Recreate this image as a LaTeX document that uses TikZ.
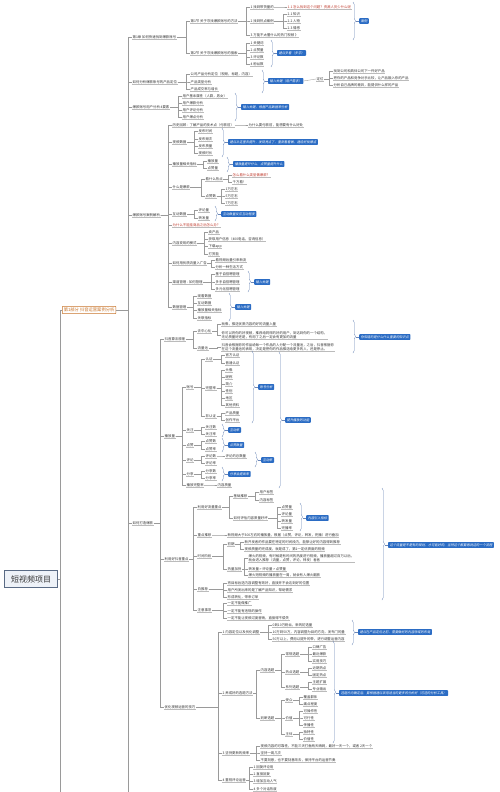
\documentclass[tikz,border=0pt]{standalone}
\usepackage{fontspec}
\setmainfont{Noto Sans CJK SC}
\newfontfamily\tagfont{Noto Sans CJK SC}[FakeSlant=0.2]
\usetikzlibrary{decorations.pathreplacing,calc}
\definecolor{txt}{HTML}{333333}
\definecolor{lnc}{HTML}{9A9A9A}
\definecolor{ulc}{HTML}{BBBBBB}
\definecolor{tagc}{HTML}{2B6CC4}
\definecolor{redc}{HTML}{C0392B}
\definecolor{brcc}{HTML}{6A86B8}
\definecolor{rootfill}{HTML}{EEF2F8}
\definecolor{rootdraw}{HTML}{5A6B85}
\definecolor{partc}{HTML}{C8742A}
\newcommand{\fs}{\fontsize{3.4}{4.2}\selectfont}
\tikzset{
 t/.style={anchor=west, inner sep=0.5pt, font=\fs, text=txt,
   append after command={(\tikzlastnode.south west) edge[ul] (\tikzlastnode.south east)}},
 tr/.style={t, text=redc},
 tml/.style={t, align=left},
 ln/.style={draw=lnc, line width=0.35pt},
 ul/.style={draw=ulc, line width=0.3pt},
 tag/.style={anchor=west, fill=tagc, text=white, font=\tagfont\fontsize{3.2}{4}\selectfont,
   inner xsep=1.6pt, inner ysep=1.3pt, rounded corners=0.6pt},
 brc/.style={draw=brcc, line width=0.4pt, decorate, decoration={brace, amplitude=2.5pt}},
 brl/.style={draw=brcc, line width=0.4pt},
 rootbox/.style={draw=rootdraw, fill=rootfill, line width=0.5pt, font=\fontsize{8}{9}\selectfont,
   text=txt, minimum width=53pt, minimum height=17pt, inner sep=1pt},
 partbox/.style={anchor=west, draw=partc, line width=0.5pt, font=\fontsize{4.3}{5}\selectfont,
   text=partc, inner xsep=1.5pt, inner ysep=1.5pt, rounded corners=0.5pt},
}
\newcommand{\lk}[2]{\foreach \c in {#2}{\draw[ln] (#1.east) -| ([xshift=-4pt]\c.west) -- (\c.west);}}
\newcommand{\bra}[6]{%
 \draw[brc] (#1,#2) -- (#1,#3);
 \node[tag] (#5) at ({#1+6},#4) {#6};
 \draw[brl] ({#1+3},#4) -- (#5.west);}
\begin{document}
\begin{tikzpicture}[x=1pt,y=-1pt]
\useasboundingbox (0,0) rectangle (500,792);
\fill[white] (0,0) rectangle (500,792);

% root and part
\node[rootbox] (root) at (31,579) {短视频项目};
\node[partbox] (p1) at (62,310) {第1部分 抖音运营案例分析};
\draw[ln] (root.east) -| (60,310) -- (p1.west);
\draw[ln] (60,579) -- (60,792);

% level 1 of part 1
\node[t] (c1) at (132,37) {第1章 如何快速找到爆款账号};
\node[t] (c2) at (132,82) {如何分析爆款账号的产品定位};
\node[t] (c3) at (132,107) {爆款账号用户分析 4要素};
\node[t] (c4) at (132,215) {爆款账号案例解析};
\node[t] (c5) at (132,523) {如何打造爆款};
\lk{p1}{c1,c2,c3,c4,c5}
\draw[ln] (128,523) -- (128,792);

% ---- chapter 1
\node[t] (s1) at (190,21) {第1节 关于寻找爆款账号的方法};
\node[t] (s2) at (190,53) {第2节 关于寻找爆款账号的搜索};
\lk{c1}{s1,s2}
\node[t] (a1) at (250,7) {1 找到带货量的};
\node[t] (a2) at (250,21) {2 找到热点案例};
\node[t] (a3) at (250,35) {3 万能不太懂什么的热门视频 》};
\lk{s1}{a1,a2,a3}
\node[tr] (a11) at (287,7) {1.1 怎么找到这个问题？资源人员少什么呢};
\lk{a1}{a11}
\node[t] (a21) at (287,14) {2.1 知识};
\node[t] (a22) at (287,21) {2.2 人物};
\node[t] (a23) at (287,28) {2.3 情感};
\lk{a2}{a21,a22,a23}
\bra{353}{2}{40}{21}{T1}{案例}
\node[t] (b1) at (250,43) {1 关键词};
\node[t] (b2) at (250,50) {2 点赞量};
\node[t] (b3) at (250,57) {3 评论数};
\node[t] (b4) at (250,64) {4 粉丝数};
\lk{s2}{b1,b2,b3,b4}
\bra{271}{40}{67}{53}{T2}{建议多看（多学）}

% ---- product positioning
\node[t] (d1) at (190,74) {公司产品分析定位（视频，标题，内容）};
\node[t] (d2) at (190,82) {产品类型分析};
\node[t] (d3) at (190,89) {产品成交率与增长};
\lk{c2}{d1,d2,d3}
\bra{262}{70}{93}{81}{T3}{输入关键（用户需求）}
\node[t] (dw) at (316,79) {定位};
\draw[ln] (T3.east) -- (dw.west);
\node[t] (d4) at (333,71) {找到公司和具体公司下一件好产品};
\node[t] (d5) at (333,78) {把你的产品和竞争对手比较，让产品融入你的产品};
\node[t] (d6) at (333,85) {分析自己品牌的差异，能提供什么样的产品};
\lk{dw}{d4,d5,d6}

% ---- user analysis
\node[t] (e1) at (182,96) {用户基本属性（人群，男女）};
\node[t] (e2) at (182,103) {用户爆款分析};
\node[t] (e3) at (182,110) {用户评论分析};
\node[t] (e4) at (182,117) {用户爆点分析};
\lk{c3}{e1,e2,e3,e4}
\bra{235}{93}{121}{107}{T4}{输入关键，根据产品数据来分析}

% ---- case analysis
\node[t] (f0) at (172,125) {历史回顾：了解产品的技术点（付款前）};
\node[t] (f1) at (172,142) {视频数据};
\node[t] (f2) at (172,164) {播放量相关指标};
\node[t] (f3) at (172,187) {什么是爆款};
\node[t] (f4) at (172,214) {互动数据};
\node[tr] (f5) at (172,225) {为什么不能挂商品之后怎么办？};
\node[t] (f6) at (172,243) {内容变现的模式};
\node[t] (f7) at (172,263) {如何用优质流量入广告};
\node[t] (f8) at (172,282) {渠道管理 - 如何管理};
\node[t] (f9) at (172,307) {数据管理};
\lk{c4}{f0,f1,f2,f3,f4,f5,f6,f7,f8,f9}
\node[t] (f0a) at (248,125) {为什么要付款前，能想要有什么好处};
\lk{f0}{f0a}
\node[t] (f11) at (198,131) {发布时间};
\node[t] (f12) at (198,139) {发布频次};
\node[t] (f13) at (198,146) {发布质量};
\node[t] (f14) at (198,153) {视频时长};
\lk{f1}{f11,f12,f13,f14}
\bra{222}{128}{157}{142}{T5}{建议从这里去提升，发现亮点了，重新看看做，建设好找爆点}
\node[t] (f21) at (207,161) {播放量};
\node[t] (f22) at (207,168) {点赞量};
\lk{f2}{f21,f22}
\bra{227}{157}{172}{164}{T6}{播放量提升什么，点赞量提升什么}
\node[t] (g1) at (205,179) {看什么热点};
\node[t] (g2) at (205,196) {点赞数};
\lk{f3}{g1,g2}
\node[tr] (g11) at (232,175) {怎么看什么类型做爆款？};
\node[t] (g12) at (232,182) {千万看！};
\lk{g1}{g11,g12}
\node[t] (g21) at (225,189) {1万左右};
\node[t] (g22) at (225,196) {5万左右};
\node[t] (g23) at (225,203) {7万左右};
\lk{g2}{g21,g22,g23}
\node[t] (f41) at (198,210) {评论量};
\node[t] (f42) at (198,218) {转发量};
\lk{f4}{f41,f42}
\bra{215}{206}{221}{214}{T7}{互动数量反应互动程度}
\node[t] (f61) at (208,232) {卖产品};
\node[t] (f62) at (208,239) {获取用户信息（400电话，咨询信息）};
\node[t] (f63) at (208,246) {下载app};
\node[t] (f64) at (208,254) {打赏能};
\lk{f6}{f61,f62,f63,f64}
\node[t] (f71) at (215,260) {看视频后量引来新流};
\node[t] (f72) at (215,267) {分析一种生活方式};
\lk{f7}{f71,f72}
\node[t] (f81) at (215,274) {基于自招聘管理};
\node[t] (f82) at (215,282) {多手自招聘管理};
\node[t] (f83) at (215,289) {多元化招聘管理};
\lk{f8}{f81,f82,f83}
\bra{248}{271}{292}{282}{T8}{输入关键}
\node[t] (f91) at (197,296) {观看数据};
\node[t] (f92) at (197,303) {互动数据};
\node[t] (f93) at (197,310) {播放量相关指标};
\node[t] (f94) at (197,318) {关联指标};
\lk{f9}{f91,f92,f93,f94}
\bra{229}{293}{321}{307}{T9}{输入关键}

% ---- how to make hits
\node[t] (h1) at (164,339) {抖音算法原理};
\node[t] (h2) at (164,436) {播放量};
\node[t] (h3) at (164,559) {利用好抖音重点};
\node[t] (h4) at (164,707) {优化视频运营的技巧};
\lk{c5}{h1,h2,h3,h4}

\node[t] (i1) at (197,331) {去中心化};
\node[t] (i2) at (197,348) {流量池};
\lk{h1}{i1,i2}
\node[t] (i11) at (221,324) {就像，推送优质内容的好的流量入量};
\node[tml] (i12) at (221,335) {你可以将你的好视频，推荐给同样的好的用户，到达到你的一个结构，\\无论质量好还是，有用了之后一定会有更加的流量};
\lk{i1}{i11,i12}
\node[tml] (i21) at (221,347) {抖音会根据你的作品给每一个作品的人分配一个流量池，之后，抖音根据你\\在这个流量池的表现，决定是把你的作品推送给更多的人，还是停止。};
\lk{i2}{i21}
\bra{353}{320}{353}{337}{T10}{你知道的是什么什么重要的知识点}

\node[t] (j1) at (186,387) {账号};
\node[t] (j2) at (186,430) {关注};
\node[t] (j3) at (186,445) {点赞};
\node[t] (j4) at (186,460) {评论};
\node[t] (j5) at (186,474) {分享};
\node[t] (j6) at (186,485) {播放完整率};
\lk{h2}{j1,j2,j3,j4,j5,j6}
\node[t] (k1) at (205,359) {认证};
\node[t] (k2) at (205,388) {完整率};
\node[t] (k3) at (205,416) {非认证};
\lk{j1}{k1,k2,k3}
\node[t] (k11) at (225,355) {官方认证};
\node[t] (k12) at (225,363) {普通认证};
\lk{k1}{k11,k12}
\node[t] (k21) at (225,370) {头像};
\node[t] (k22) at (225,377) {昵称};
\node[t] (k23) at (225,384) {简介};
\node[t] (k24) at (225,391) {性别};
\node[t] (k25) at (225,398) {地区};
\node[t] (k26) at (225,405) {其他资料};
\lk{k2}{k21,k22,k23,k24,k25,k26}
\node[t] (k31) at (225,413) {产品质量};
\node[t] (k32) at (225,420) {创作平台};
\lk{k3}{k31,k32}
\bra{252}{351}{423}{387}{T11}{账号分析}
\node[t] (j21) at (205,427) {关注数};
\node[t] (j22) at (205,434) {关注率};
\lk{j2}{j21,j22}
\bra{222}{424}{437}{430}{T12}{互动率}
\node[t] (j31) at (205,441) {点赞数};
\node[t] (j32) at (205,449) {点赞率};
\lk{j3}{j31,j32}
\bra{222}{438}{452}{445}{T13}{点赞数量}
\node[t] (j41) at (205,456) {评论数};
\node[t] (j42) at (205,463) {评论率};
\lk{j4}{j41,j42}
\node[t] (j411) at (225,456) {评论的总数量};
\lk{j41}{j411}
\bra{255}{452}{467}{460}{T14}{互动率}
\node[t] (j51) at (205,471) {分享数};
\node[t] (j52) at (205,478) {分享率};
\lk{j5}{j51,j52}
\bra{222}{467}{481}{474}{T15}{分享会提高率}
\node[t] (j61) at (217,485) {内容质量};
\lk{j6}{j61}
\bra{279}{352}{488}{420}{T16}{提升播放的功能}

\node[t] (l1) at (197,507) {利用好流量重点};
\node[t] (l2) at (197,535) {重点推荐};
\node[t] (l3) at (197,556) {时间阶段};
\node[t] (l4) at (197,589) {白推荐};
\node[t] (l5) at (197,610) {注意事项};
\lk{h3}{l1,l2,l3,l4,l5}
\node[t] (m1) at (233,496) {基础推荐};
\node[t] (m2) at (233,518) {如何评估内容质量好坏};
\lk{l1}{m1,m2}
\node[t] (m11) at (259,492) {用户标签};
\node[t] (m12) at (259,500) {内容标签};
\lk{m1}{m11,m12}
\node[t] (m21) at (281,507) {点赞量};
\node[t] (m22) at (281,514) {评论量};
\node[t] (m23) at (281,521) {转发量};
\node[t] (m24) at (281,528) {完播率};
\lk{m2}{m21,m22,m23,m24}
\bra{300}{503}{531}{518}{T17}{内容引入指标}
\node[t] (l21) at (227,535) {新视频大于300左右的播放量，根据（点赞，评论，转发，完播）进行叠加};
\lk{l2}{l21}
\node[t] (n1) at (227,544) {初期};
\node[t] (n2) at (227,569) {热量加持};
\lk{l3}{n1,n2}
\node[t] (n11) at (244,542) {新开发者的作品要在特定的时间段内，能够让好的内容得到推荐};
\node[t] (n12) at (244,549) {视频质量的完成度，就是成了，第1一定优质度的视频};
\lk{n1}{n11,n12}
\node[tml] (n21) at (248,558) {爆火的视频，有时候是有时间的热度进行视频，播放量超过百万以后，\\就会进入推荐（流量，点赞，评论，转发）者者};
\node[t] (n22) at (248,569) {转发量 > 评论量 > 点赞量};
\node[t] (n23) at (248,575) {爆火短视频的播放量在一周，就会有人爆火翻放};
\lk{n2}{n21,n22,n23}
\node[t] (l41) at (227,583) {将目标后选内容调整有效好，直接并不会达到好的位置};
\node[t] (l42) at (227,590) {用户所发出来的是了解产品知识，帮助需求};
\node[t] (l43) at (227,597) {形成转化，带来订单};
\lk{l4}{l41,l42,l43}
\node[t] (l51) at (227,603) {一定不能做推广};
\node[t] (l52) at (227,611) {一定不能有违规的操作};
\node[t] (l53) at (227,618) {一定不能让视频过度营销，直接得不偿失};
\lk{l5}{l51,l52,l53}
\bra{382}{488}{600}{545}{T18}{这个流量是不是有的规划，才可能好的，当然这个都要再说这的一个流程}

\node[t] (o1) at (222,632) {1 内容定位以及优化调整};
\node[t] (o2) at (222,693) {2 养成好的选题方法};
\node[t] (o3) at (222,753) {3 坚持更新的频率};
\node[t] (o4) at (222,780) {4 重视评论运营};
\lk{h4}{o1,o2,o3,o4}
\node[t] (o11) at (272,625) {0到10万粉丝，新的初选量};
\node[t] (o12) at (272,632) {10万到50万，内容调整为目的方向，发布门的量};
\node[t] (o13) at (272,639) {50万以上，费用以提升的带，进行调整运营内容};
\lk{o1}{o11,o12,o13}
\bra{352}{620}{645}{632}{T19}{建议在产品定位之前，需要做好的内容领域的布局}
\node[t] (q1) at (260,670) {内容选题};
\node[t] (q2) at (260,718) {判断选题};
\lk{o2}{q1,q2}
\node[t] (r1) at (285,654) {常规选题};
\node[t] (r2) at (285,672) {热点选题};
\node[t] (r3) at (285,687) {系列选题};
\lk{q1}{r1,r2,r3}
\node[t] (r11) at (312,647) {口碑广告};
\node[t] (r12) at (312,654) {最近爆款};
\node[t] (r13) at (312,661) {实用技巧};
\lk{r1}{r11,r12,r13}
\node[t] (r21) at (312,668) {近期热点};
\node[t] (r22) at (312,675) {固定热点};
\lk{r2}{r21,r22}
\node[t] (r31) at (312,682) {主题扩展};
\node[t] (r32) at (312,689) {专业输出};
\lk{r3}{r31,r32}
\node[t] (r4) at (285,700) {受众};
\node[t] (r5) at (285,718) {价值};
\node[t] (r6) at (285,734) {主体};
\lk{q2}{r4,r5,r6}
\node[t] (r41) at (303,697) {覆盖群体};
\node[t] (r42) at (303,704) {痛点程度};
\lk{r4}{r41,r42}
\node[t] (r51) at (303,711) {可操作性};
\node[t] (r52) at (303,718) {可行性};
\node[t] (r53) at (303,725) {传播性};
\lk{r5}{r51,r52,r53}
\node[t] (r61) at (303,732) {独特性};
\node[t] (r62) at (303,739) {价值性};
\lk{r6}{r61,r62}
\bra{333}{641}{743}{693}{T20}{选题方向确定后，要根据建议采用适当的更多的分析好（可选的分析工具）}
\node[t] (o31) at (260,746) {视频内容的可靠性，不能三天打鱼两天晒网，最好一天一个，或者 2天一个};
\node[t] (o32) at (260,753) {坚持一周几次};
\node[t] (o33) at (260,760) {不要刻意，也不要刻意改去，保持平台的运营节奏};
\lk{o3}{o31,o32,o33}
\node[t] (o41) at (253,767) {1 回复评论用};
\node[t] (o42) at (253,774) {2 直接回复};
\node[t] (o43) at (253,781) {3 增加互动人气};
\node[t] (o44) at (253,789) {4 多个对话热度};
\lk{o4}{o41,o42,o43,o44}
\end{tikzpicture}
\end{document}
